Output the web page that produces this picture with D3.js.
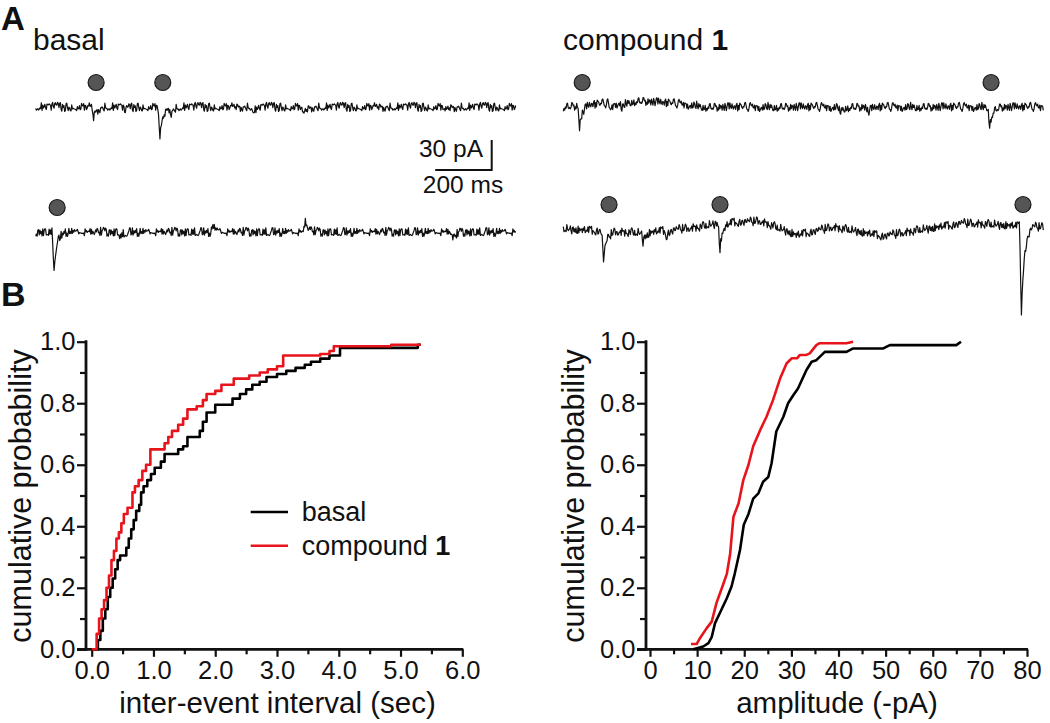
<!DOCTYPE html>
<html><head><meta charset="utf-8">
<script src="https://cdn.jsdelivr.net/npm/d3@7"></script>
<style>
body{margin:0;background:#fff}
svg{display:block}
text{font-family:"Liberation Sans",Arial,Helvetica,sans-serif;fill:#111}
</style>
</head><body>
<svg id="c" width="1050" height="723"></svg>
<script>
// ---------------- DATA ----------------
// Panel B left: cumulative probability of inter-event interval (sec)
const ieiBasalX = [0.00,0.10,0.14,0.18,0.22,0.26,0.30,0.34,0.38,0.42,0.46,0.56,0.60,0.64,0.68,0.72,0.77,0.80,0.84,0.90,0.96,1.02,1.12,1.18,1.40,1.48,1.55,1.75,1.80,1.86,2.00,2.28,2.40,2.50,2.60,2.72,2.83,3.00,3.15,3.30,3.45,3.55,3.70,3.85,4.02,5.28,5.33];
const ieiBasalY = [0.000,0.030,0.060,0.100,0.130,0.170,0.200,0.230,0.260,0.290,0.305,0.330,0.360,0.390,0.420,0.450,0.470,0.510,0.530,0.550,0.570,0.590,0.610,0.635,0.650,0.660,0.690,0.710,0.740,0.770,0.795,0.815,0.830,0.845,0.860,0.870,0.885,0.895,0.905,0.915,0.925,0.935,0.945,0.955,0.980,0.990,0.990];
const ieiCompX = [0.00,0.08,0.12,0.16,0.20,0.24,0.28,0.32,0.36,0.40,0.44,0.48,0.52,0.58,0.66,0.70,0.76,0.82,0.88,0.95,1.18,1.24,1.30,1.40,1.48,1.55,1.70,1.80,1.86,2.00,2.10,2.30,2.55,2.72,2.85,3.00,3.10,3.70,3.85,3.92,4.85,5.33];
const ieiCompY = [0.000,0.050,0.100,0.130,0.160,0.200,0.240,0.290,0.320,0.360,0.380,0.410,0.440,0.460,0.510,0.530,0.550,0.580,0.600,0.650,0.670,0.690,0.710,0.730,0.750,0.780,0.790,0.810,0.830,0.840,0.860,0.880,0.890,0.900,0.910,0.920,0.955,0.960,0.970,0.985,0.990,0.990];

// Panel B right: cumulative probability of amplitude (-pA)
const ampBasalX = [9.2,11.3,12.4,13.1,13.8,14.8,16.3,17.3,18.0,19.1,19.9,20.9,21.9,23.0,24.0,25.1,25.8,26.8,28.3,29.3,30.4,31.4,33.2,34.3,35.3,37.1,41.7,43.1,49.5,50.9,65.0,66.0];
const ampBasalY = [0.000,0.009,0.020,0.040,0.085,0.117,0.166,0.204,0.247,0.323,0.405,0.440,0.490,0.507,0.545,0.560,0.605,0.708,0.756,0.800,0.826,0.848,0.908,0.935,0.940,0.967,0.967,0.978,0.978,0.989,0.989,1.000];
const ampCompX = [8.7,9.9,10.6,12.0,13.1,14.1,15.5,16.3,17.0,17.7,18.8,19.8,20.9,21.9,23.3,24.7,26.1,27.6,29.0,30.1,31.2,31.8,33.2,33.9,35.3,36.0,41.7,43.1];
const ampCompY = [0.017,0.017,0.036,0.068,0.090,0.150,0.210,0.245,0.310,0.430,0.475,0.550,0.600,0.660,0.710,0.755,0.810,0.880,0.930,0.946,0.946,0.957,0.957,0.962,0.989,0.995,0.995,1.000];

// axis tick values
const ieiMajorTicks = [0,1,2,3,4,5,6];
const ieiMinorTicks = [0.5,1.5,2.5,3.5,4.5,5.5];
const ampMajorTicks = [0,10,20,30,40,50,60,70,80];
const ampMinorTicks = [5,15,25,35,45,55,65,75];
const probMajorTicks = [0,0.2,0.4,0.6,0.8,1.0];
const probMinorTicks = [0.1,0.3,0.5,0.7,0.9];

// Panel A traces: events [time ms, amplitude pA (positive = inward/downward)]
const eventsBasal1 = [[204,11],[316,6],[440,33],[479,6],[773,5],[947,9],[1450,5]];
const eventsBasal2 = [[66,36],[299,5],[628,-7],[954,-11],[1478,8]];
const eventsComp1  = [[57,22],[165,8],[207,7],[980,6],[1079,6],[1509,19]];
const eventsComp2  = [[143,30],[282,9],[364,6],[555,26],[1623,88]];
// marked events (circles), ms
const marksBasal1 = [214,450];
const marksBasal2 = [76];
const marksComp1  = [67,1515];
const marksComp2  = [162,555,1628];
// slow baseline drift [ms, pA] (negative = up)
const driftBasal1 = [[0,0],[1700,0]];
const driftBasal2 = [[0,0],[1700,0]];
const driftComp1  = [[0,0],[120,-3],[280,-6],[420,-3],[500,0],[1700,0]];
const driftComp2  = [[0,0],[270,4],[483,-2],[555,-6],[696,-8],[827,6],[955,-2],[1132,7],[1416,-6],[1547,-4],[1700,-2]];
// recorded noise samples (pA), reused along traces
const noiseSamples = [0.8,-1.2,2.1,-0.4,1.5,-2.3,0.6,1.9,-1.1,-0.2,2.6,-1.7,0.3,-0.9,1.4,-2.8,1.1,0.2,-1.5,2.2,-0.6,1.0,-2.0,0.9,1.7,-1.3,0.1,-2.5,1.8,0.4,-0.8,2.4,-1.9,0.7,-0.3,1.3,-2.2,1.6,-0.1,-1.4,2.0,-0.7,0.5,-2.6,1.2,0.0,-1.0,2.3,-1.6,0.9,1.5,-2.1,-0.5,1.8,-1.2,0.6,-2.4,2.5,-0.9,0.3,-1.8,1.1,-0.2,2.0,-1.5,-0.6,1.4,-2.7,0.8,1.6,-1.1,0.2,-2.0,2.2,-0.4,1.0,-1.7,0.5,-0.8,1.9,-2.3,0.7,1.2,-1.4,-0.3,2.6,-1.0,0.4,-2.1,1.3,0.1,-1.6,2.1,-0.7,0.9,-2.5,1.7,-0.5,0.6,-1.9,1.5];
// synaptic event waveform (fraction of peak per 2.5 ms sample)
const eventShape = [0.2,0.65,1,0.75,0.58,0.46,0.38,0.31,0.25,0.2,0.16,0.13,0.1,0.08,0.06,0.045,0.03,0.02,0.01];

// ---------------- DRAW ----------------
const svg = d3.select("#c");
const font = '"Liberation Sans",Arial,Helvetica,sans-serif';

// Panel labels
svg.append("text").attr("x",1).attr("y",30).attr("font-size",33).attr("font-weight","bold").text("A");
svg.append("text").attr("x",1).attr("y",306).attr("font-size",34).attr("font-weight","bold").text("B");
svg.append("text").attr("x",33).attr("y",50).attr("font-size",30).text("basal");
const cl = svg.append("text").attr("x",563).attr("y",50).attr("font-size",30);
cl.append("tspan").text("compound ");
cl.append("tspan").attr("font-weight","bold").text("1");

const duration = 1700, step = 2.5;
function drawTrace(x0, y0, events, marks, drift, off, stride){
  const xs = d3.scaleLinear().domain([0,duration]).range([x0, x0+480]);
  const ys = d3.scaleLinear().domain([0,30]).range([y0, y0+30]);
  const dr = d3.scaleLinear().domain(drift.map(d=>d[0])).range(drift.map(d=>d[1])).clamp(true);
  const pts = [];
  const n = noiseSamples.length;
  for(let i=0, t=0; t<=duration; i++, t+=step){
    let v = dr(t) + 1.7*noiseSamples[(i*stride+off)%n];
    events.forEach(([te,a])=>{
      const k = Math.round((t-te)/step)+2;
      if(k>=0 && k<eventShape.length) v += a*eventShape[k];
    });
    pts.push([t,v]);
  }
  svg.append("path").datum(pts)
    .attr("d", d3.line().x(d=>xs(d[0])).y(d=>ys(d[1])))
    .attr("fill","none").attr("stroke","#111").attr("stroke-width",1.2).attr("stroke-linejoin","round");
  svg.selectAll(null).data(marks).enter().append("circle")
    .attr("cx",d=>xs(d)).attr("cy",ys(-24.5)).attr("r",8)
    .attr("fill","#555").attr("stroke","#1a1a1a").attr("stroke-width",1.2);
  return xs;
}
drawTrace(35.7,107,eventsBasal1,marksBasal1,driftBasal1,0,7);
drawTrace(35.7,232,eventsBasal2,marksBasal2,driftBasal2,31,13);
drawTrace(563.3,107,eventsComp1,marksComp1,driftComp1,57,11);
drawTrace(563.3,229,eventsComp2,marksComp2,driftComp2,83,17);

// Scale bar: 30 pA, 200 ms
const sbX = d3.scaleLinear().domain([0,duration]).range([35.7,515.7]);
const sbEnd = sbX(1615), sbStart = sbX(1415);
svg.append("path").attr("d",`M${sbStart},170H${sbEnd}V140`).attr("fill","none").attr("stroke","#111").attr("stroke-width",2);
svg.append("text").attr("x",483).attr("y",157).attr("font-size",24.5).attr("text-anchor","end").text("30 pA");
svg.append("text").attr("x",463).attr("y",193).attr("font-size",24.5).attr("text-anchor","middle").text("200 ms");

// ---------- Cumulative plots ----------
function cdfPlot(cfg){
  const g = svg.append("g");
  const x = d3.scaleLinear().domain(cfg.xDomain).range(cfg.xRange);
  const y = d3.scaleLinear().domain([0,1]).range([649.3,341.7]);
  const ya = g.append("g").attr("transform",`translate(${cfg.yAxisX},0)`);
  ya.call(d3.axisLeft(y).tickValues(probMinorTicks).tickSize(6).tickFormat(""));
  ya.select(".domain").remove();
  const yb = g.append("g").attr("transform",`translate(${cfg.yAxisX},0)`);
  yb.call(d3.axisLeft(y).tickValues(probMajorTicks).tickSize(9).tickPadding(1.5).tickFormat(d3.format(".1f")));
  yb.select(".domain").remove();
  const xa = g.append("g").attr("transform",`translate(0,${y(0)})`);
  xa.call(d3.axisBottom(x).tickValues(cfg.minor).tickSize(5).tickFormat(""));
  xa.select(".domain").remove();
  const xb = g.append("g").attr("transform",`translate(0,${y(0)})`);
  xb.call(d3.axisBottom(x).tickValues(cfg.major).tickSize(7.5).tickPadding(4).tickFormat(cfg.fmt));
  xb.select(".domain").remove();
  g.selectAll(".tick line").attr("stroke","#111").attr("stroke-width",2.2);
  g.selectAll(".tick text").attr("font-size",25.5).attr("font-family",font).attr("fill","#111");
  g.append("line").attr("x1",cfg.yAxisX).attr("x2",cfg.yAxisX).attr("y1",y(1)-1.5).attr("y2",y(0)+1.5)
    .attr("stroke","#111").attr("stroke-width",2.8);
  g.append("line").attr("x1",cfg.yAxisX-9).attr("x2",x(cfg.xDomain[1])+1).attr("y1",y(0)).attr("y2",y(0))
    .attr("stroke","#111").attr("stroke-width",2.8);
  cfg.series.forEach(s=>{
    const data = s.xs.map((v,i)=>[v,s.ys[i]]);
    g.append("path").datum(data)
      .attr("d", d3.line().x(d=>x(d[0])).y(d=>y(d[1])).curve(cfg.curve))
      .attr("fill","none").attr("stroke",s.color).attr("stroke-width",2.6).attr("stroke-linejoin","round");
  });
  g.append("text").attr("x",cfg.titleX).attr("y",713).attr("font-size",29.5)
    .attr("text-anchor","middle").text(cfg.title);
  g.append("text").attr("transform",`translate(${cfg.yTitleX},496) rotate(-90)`).attr("font-size",30.5)
    .attr("text-anchor","middle").text("cumulative probability");
  return {x,y,g};
}

cdfPlot({
  xDomain:[0,6], xRange:[91.7,462.3], yAxisX:86, major:ieiMajorTicks, minor:ieiMinorTicks,
  fmt:d3.format(".1f"), curve:d3.curveStepAfter, title:"inter-event interval (sec)", titleX:277.5, yTitleX:31,
  series:[{xs:ieiBasalX, ys:ieiBasalY, color:"#000"},{xs:ieiCompX, ys:ieiCompY, color:"#e8141c"}]
});
cdfPlot({
  xDomain:[0,80], xRange:[650,1027], yAxisX:646, major:ampMajorTicks, minor:ampMinorTicks,
  fmt:d3.format("d"), curve:d3.curveLinear, title:"amplitude (-pA)", titleX:837, yTitleX:584,
  series:[{xs:ampBasalX, ys:ampBasalY, color:"#000"},{xs:ampCompX, ys:ampCompY, color:"#e8141c"}]
});

// legend
const legend = [{label:"basal", color:"#000", bold:null},{label:"compound ", color:"#e8141c", bold:"1"}];
legend.forEach((d,i)=>{
  const yy = 512 + i*33.7;
  svg.append("line").attr("x1",250.7).attr("x2",288).attr("y1",yy).attr("y2",yy).attr("stroke",d.color).attr("stroke-width",2.6);
  const t = svg.append("text").attr("x",301.7).attr("y",yy+9).attr("font-size",27);
  t.append("tspan").text(d.label);
  if(d.bold) t.append("tspan").attr("font-weight","bold").text(d.bold);
});
</script>
</body></html>
